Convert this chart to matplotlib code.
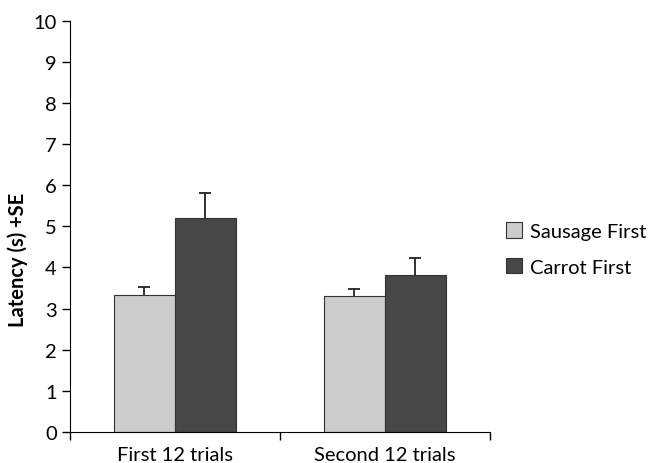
import numpy as np
import matplotlib.pyplot as plt

plt.rcParams['font.family'] = ['Lato', 'DejaVu Sans']

groups = ['First 12 trials', 'Second 12 trials']
series = ['Sausage First', 'Carrot First']
means = [[3.33, 3.31], [5.2, 3.82]]
ses = [[0.2, 0.17], [0.6, 0.4]]
colors = ['#cccccc', '#474747']

fig = plt.figure(figsize=(6.53, 4.64), dpi=100)
ax = fig.add_axes([0.107, 0.067, 0.643, 0.886])

x = np.arange(len(groups))
w = 0.29
for i in range(len(series)):
    pos = x + (i - 0.5) * w
    m = np.array(means[i])
    s = np.array(ses[i])
    ax.bar(pos, m, w, color=colors[i], edgecolor='#333333', linewidth=0.8,
           label=series[i], zorder=2)
    # upper error bar only (+SE)
    ax.vlines(pos, m, m + s, color='#222222', linewidth=1.3, zorder=3)
    ax.plot(pos, m + s, linestyle='none', marker='_', markersize=8,
            markeredgewidth=1.3, color='#222222', zorder=3)

ax.set_xlim(-0.5, 1.5)
ax.set_ylim(0, 10)
ax.set_yticks(range(0, 11))
ax.tick_params(axis='y', labelsize=14.5, length=6, direction='out', width=1)
ax.set_xticks([-0.5, 0.5, 1.5])
ax.set_xticklabels([])
ax.set_xticks(x, minor=True)
ax.set_xticklabels(groups, minor=True, fontsize=14.5)
ax.tick_params(axis='x', which='major', length=6, width=1, direction='out')
ax.tick_params(axis='x', which='minor', length=0, pad=10)
ax.spines['top'].set_visible(False)
ax.spines['right'].set_visible(False)
ax.set_ylabel('Latency (s) +SE', fontsize=14.5, fontweight='bold')
ax.yaxis.set_label_coords(-0.1, 0.42)

ax.legend(loc='center left', bbox_to_anchor=(1.02, 0.445), borderaxespad=0,
          frameon=False, fontsize=14.5, handlelength=0.8, handleheight=0.8,
          handletextpad=0.4, labelspacing=0.9)

fig.savefig('out.png', dpi=100)
